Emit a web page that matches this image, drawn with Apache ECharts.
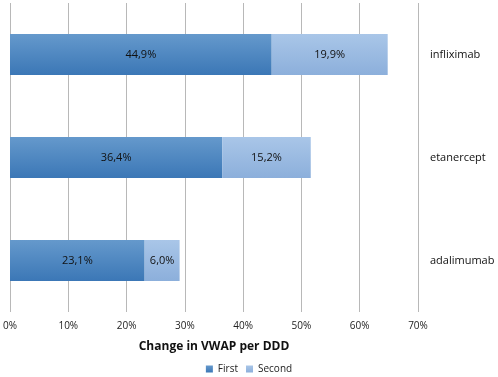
<!DOCTYPE html>
<html>
<head>
<meta charset="utf-8">
<script src="https://cdn.jsdelivr.net/npm/echarts@6/dist/echarts.min.js"></script>
<style>
html, body { margin: 0; padding: 0; background: #fff; }
#chart { width: 498px; height: 377px; }
</style>
</head>
<body>
<div id="chart"></div>
<script>
var drugs = ["adalimumab", "etanercept", "infliximab"];
var firstVals = [23.1, 36.4, 44.9];
var secondVals = [6.0, 15.2, 19.9];
var xTicks = [0, 10, 20, 30, 40, 50, 60, 70];

var font = "Open Sans";

function pct(v) {
	return v.toFixed(1).replace(".", ",") + "%";
}

function grad(top, bottom) {
	return new echarts.graphic.LinearGradient(0, 0, 0, 1, [
		{ offset: 0, color: top },
		{ offset: 1, color: bottom }
	]);
}

var chart = echarts.init(document.getElementById("chart"));

chart.setOption({
	animation: false,
	grid: { left: 10, right: 80, top: 3, bottom: 65 },
	legend: {
		bottom: -2,
		left: "center",
		itemWidth: 7,
		itemHeight: 7,
		itemGap: 8,
		icon: "rect",
		textStyle: { fontFamily: font, fontSize: 10, color: "#222" },
		data: ["First", "Second"]
	},
	xAxis: {
		type: "value",
		min: xTicks[0],
		max: xTicks[xTicks.length - 1],
		interval: 10,
		axisLine: { show: false },
		axisTick: { show: false },
		splitLine: { lineStyle: { color: "#b8b8b8", width: 1 } },
		axisLabel: {
			fontFamily: font, fontSize: 10, color: "#222", margin: 9,
			formatter: function (v) { return v + "%"; }
		},
		name: "Change in VWAP per DDD",
		nameLocation: "middle",
		nameGap: 29,
		nameTextStyle: { fontFamily: font, fontSize: 12, fontWeight: "bold", color: "#111" }
	},
	yAxis: {
		type: "category",
		position: "right",
		data: drugs,
		axisLine: { show: false },
		axisTick: { show: false },
		axisLabel: {
			fontFamily: font, fontSize: 11, color: "#111",
			align: "left", margin: 12
		}
	},
	series: [
		{
			name: "First",
			type: "bar",
			stack: "total",
			barWidth: "40%",
			data: firstVals,
			itemStyle: { color: grad("#6599cc", "#3b77b6") },
			label: {
				show: true, position: "inside",
				fontFamily: font, fontSize: 11, color: "#111",
				formatter: function (p) { return pct(p.value); }
			}
		},
		{
			name: "Second",
			type: "bar",
			stack: "total",
			barWidth: "40%",
			data: secondVals,
			itemStyle: { color: grad("#a9c6e8", "#8cafdb") },
			label: {
				show: true, position: "inside",
				fontFamily: font, fontSize: 11, color: "#111",
				formatter: function (p) { return pct(p.value); }
			}
		}
	]
});
</script>
</body>
</html>
